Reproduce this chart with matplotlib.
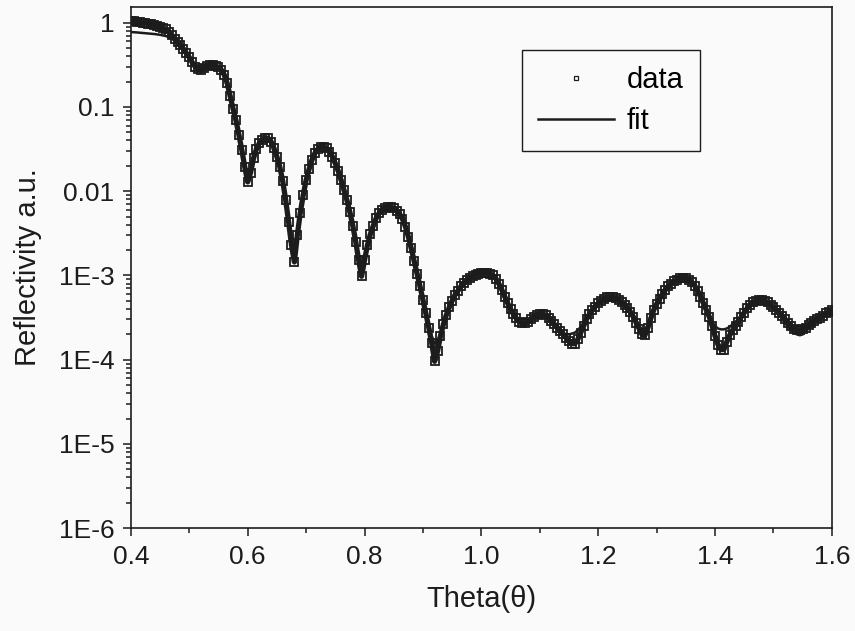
"""
X-ray reflectivity scan: measured data and model fit vs. incidence angle
"""

import numpy as np
import matplotlib
matplotlib.use('Agg')
import matplotlib.pyplot as plt
from matplotlib.ticker import FixedLocator, FixedFormatter, MultipleLocator, LogLocator, NullFormatter

plt.rcParams['font.family'] = ['Liberation Sans', 'DejaVu Sans']

# scan grid: 0.400 .. 1.600 in steps of 0.005
theta_start = 0.400
theta_stop = 1.600
n_points = 241

# log10 of reflectivity, measured (one row = 10 points = 0.05 deg)
log_r_data = [
    0.020, 0.015, 0.010, 0.005, 0.000, -0.005, -0.010, -0.020, -0.030, -0.040,
    -0.050, -0.060, -0.080, -0.110, -0.150, -0.190, -0.230, -0.270, -0.310, -0.360,
    -0.41, -0.47, -0.52, -0.55, -0.56, -0.54, -0.51, -0.50, -0.50, -0.51,
    -0.53, -0.56, -0.62, -0.72, -0.87, -1.02, -1.16, -1.33, -1.51, -1.71,
    -1.89, -1.78, -1.61, -1.50, -1.43, -1.39, -1.37, -1.37, -1.41, -1.49,
    -1.59, -1.71, -1.88, -2.10, -2.36, -2.64, -2.84, -2.52, -2.26, -2.05,
    -1.87, -1.74, -1.63, -1.55, -1.50, -1.47, -1.47, -1.49, -1.53, -1.59,
    -1.67, -1.76, -1.87, -1.99, -2.11, -2.25, -2.41, -2.60, -2.82, -3.01,
    -2.82, -2.64, -2.51, -2.41, -2.32, -2.26, -2.22, -2.20, -2.19, -2.19,
    -2.20, -2.23, -2.27, -2.33, -2.42, -2.54, -2.68, -2.83, -2.98, -3.13,
    -3.29, -3.45, -3.62, -3.80, -4.02, -3.90, -3.72, -3.58, -3.47, -3.38,
    -3.30, -3.23, -3.18, -3.13, -3.09, -3.06, -3.03, -3.01, -2.99, -2.98,
    -2.97, -2.97, -2.97, -2.98, -3.00, -3.04, -3.10, -3.17, -3.25, -3.33,
    -3.40, -3.46, -3.51, -3.55, -3.57, -3.57, -3.55, -3.52, -3.49, -3.47,
    -3.46, -3.46, -3.47, -3.50, -3.54, -3.58, -3.62, -3.66, -3.70, -3.74,
    -3.78, -3.81, -3.81, -3.76, -3.68, -3.60, -3.52, -3.46, -3.41, -3.37,
    -3.33, -3.30, -3.28, -3.26, -3.26, -3.26, -3.27, -3.29, -3.32, -3.35,
    -3.39, -3.43, -3.49, -3.56, -3.63, -3.70, -3.71, -3.62, -3.51, -3.41,
    -3.34, -3.28, -3.22, -3.17, -3.13, -3.10, -3.07, -3.05, -3.03, -3.03,
    -3.03, -3.05, -3.08, -3.12, -3.18, -3.25, -3.33, -3.41, -3.49, -3.60,
    -3.72, -3.82, -3.88, -3.88, -3.79, -3.71, -3.65, -3.60, -3.55, -3.49,
    -3.44, -3.39, -3.35, -3.32, -3.30, -3.29, -3.29, -3.30, -3.32, -3.35,
    -3.38, -3.41, -3.44, -3.48, -3.52, -3.56, -3.60, -3.63, -3.65, -3.65,
    -3.64, -3.62, -3.59, -3.56, -3.54, -3.52, -3.50, -3.48, -3.45, -3.43,
    -3.41,
]

# log10 of reflectivity, model fit on the same grid
log_r_fit = [
    -0.110, -0.112, -0.115, -0.118, -0.120, -0.123, -0.126, -0.130, -0.134, -0.138,
    -0.143, -0.150, -0.158, -0.170, -0.190, -0.210, -0.235, -0.270, -0.310, -0.360,
    -0.41, -0.47, -0.52, -0.55, -0.56, -0.54, -0.51, -0.50, -0.50, -0.51,
    -0.53, -0.56, -0.62, -0.72, -0.87, -1.02, -1.16, -1.33, -1.50, -1.68,
    -1.84, -1.76, -1.61, -1.50, -1.43, -1.39, -1.37, -1.37, -1.41, -1.49,
    -1.59, -1.71, -1.88, -2.10, -2.35, -2.60, -2.76, -2.50, -2.26, -2.05,
    -1.87, -1.74, -1.63, -1.55, -1.50, -1.47, -1.47, -1.49, -1.53, -1.59,
    -1.67, -1.76, -1.87, -1.99, -2.11, -2.25, -2.41, -2.60, -2.80, -2.94,
    -2.80, -2.64, -2.51, -2.41, -2.32, -2.26, -2.22, -2.20, -2.19, -2.19,
    -2.20, -2.23, -2.27, -2.33, -2.42, -2.54, -2.68, -2.83, -2.98, -3.13,
    -3.28, -3.43, -3.58, -3.72, -3.81, -3.78, -3.68, -3.57, -3.47, -3.38,
    -3.30, -3.23, -3.18, -3.13, -3.09, -3.06, -3.03, -3.01, -2.99, -2.98,
    -2.97, -2.97, -2.97, -2.98, -3.00, -3.04, -3.10, -3.17, -3.25, -3.33,
    -3.40, -3.46, -3.50, -3.54, -3.56, -3.56, -3.55, -3.52, -3.49, -3.47,
    -3.46, -3.46, -3.47, -3.50, -3.54, -3.58, -3.62, -3.65, -3.68, -3.70,
    -3.70, -3.69, -3.68, -3.65, -3.61, -3.56, -3.50, -3.45, -3.41, -3.37,
    -3.33, -3.30, -3.28, -3.26, -3.26, -3.26, -3.27, -3.29, -3.32, -3.35,
    -3.39, -3.43, -3.48, -3.54, -3.60, -3.64, -3.64, -3.59, -3.50, -3.41,
    -3.34, -3.28, -3.22, -3.17, -3.13, -3.10, -3.07, -3.05, -3.03, -3.03,
    -3.03, -3.05, -3.08, -3.12, -3.18, -3.25, -3.33, -3.41, -3.48, -3.55,
    -3.60, -3.63, -3.64, -3.64, -3.63, -3.61, -3.58, -3.55, -3.52, -3.48,
    -3.44, -3.40, -3.36, -3.33, -3.31, -3.30, -3.30, -3.31, -3.33, -3.36,
    -3.39, -3.43, -3.47, -3.52, -3.57, -3.61, -3.65, -3.68, -3.70, -3.71,
    -3.70, -3.67, -3.63, -3.59, -3.55, -3.52, -3.49, -3.47, -3.45, -3.43,
    -3.42,
]

y_ticks = [1e-6, 1e-5, 1e-4, 1e-3, 1e-2, 1e-1, 1]
y_tick_labels = ['1E-6', '1E-5', '1E-4', '1E-3', '0.01', '0.1', '1']
x_ticks = [0.4, 0.6, 0.8, 1.0, 1.2, 1.4, 1.6]
x_tick_labels = ['0.4', '0.6', '0.8', '1.0', '1.2', '1.4', '1.6']

theta = np.linspace(theta_start, theta_stop, n_points)
r_data = 10.0 ** np.array(log_r_data)
r_fit = 10.0 ** np.array(log_r_fit)

ink = '#1c1c1c'

fig = plt.figure(figsize=(8.55, 6.31), dpi=100, facecolor='#fafafa')
ax = fig.add_axes([0.153, 0.163, 0.820, 0.826])
ax.set_facecolor('#fafafa')

# data: thick trace underneath so the dense squares read as one band
ax.plot(theta, r_data, '-', color=ink, lw=3.8, zorder=2)
ax.plot(theta, r_data, 's', ms=5.8, mfc='none', mec=ink, mew=1.3,
        label='data', zorder=3)
ax.plot(theta, r_fit, '-', color=ink, lw=1.8, label='fit', zorder=4)

ax.set_yscale('log')
ax.set_xlim(0.4, 1.6)
ax.set_ylim(1e-6, 1.54)

ax.xaxis.set_major_locator(FixedLocator(x_ticks))
ax.xaxis.set_major_formatter(FixedFormatter(x_tick_labels))
ax.xaxis.set_minor_locator(MultipleLocator(0.1))
ax.yaxis.set_major_locator(FixedLocator(y_ticks))
ax.yaxis.set_major_formatter(FixedFormatter(y_tick_labels))
ax.yaxis.set_minor_locator(LogLocator(base=10, subs=np.arange(2, 10), numticks=20))
ax.yaxis.set_minor_formatter(NullFormatter())

ax.tick_params(which='both', direction='out', top=False, right=False,
               width=1.1, color=ink, labelcolor=ink)
ax.tick_params(which='major', length=6, labelsize=19, pad=6)
ax.tick_params(which='minor', length=3.5)
for s in ax.spines.values():
    s.set_linewidth(1.2)
    s.set_color(ink)

ax.set_xlabel('Theta(θ)', fontsize=21, color=ink, labelpad=12)
ax.set_ylabel('Reflectivity a.u.', fontsize=21, color=ink, labelpad=12)

leg = ax.legend(loc='upper left', bbox_to_anchor=(0.558, 0.918), fontsize=21,
                frameon=True, fancybox=False, framealpha=1, edgecolor=ink,
                facecolor='#fafafa', handlelength=2.6, handletextpad=0.45,
                markerscale=0.62, borderpad=0.55, labelspacing=0.45,
                borderaxespad=0)
leg.get_frame().set_linewidth(1.0)
leg.legend_handles[0].set_markerfacecolor('white')
leg.legend_handles[0].set_markeredgewidth(0.9)

fig.savefig('out.png', dpi=100, facecolor=fig.get_facecolor())
